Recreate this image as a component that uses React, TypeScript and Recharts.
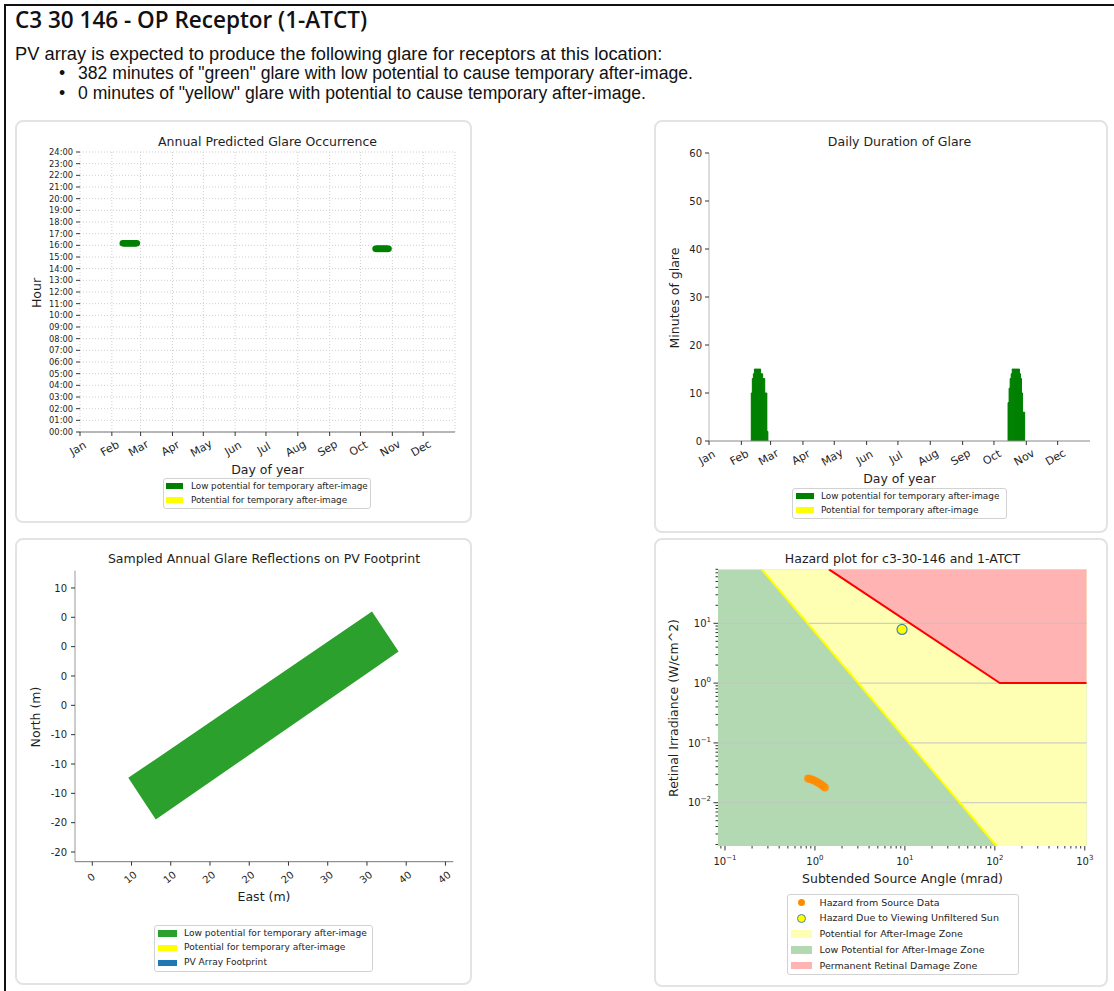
import React from "react";
import {
  BarChart,
  Bar,
  ComposedChart,
  Scatter,
  Area,
  Line,
  XAxis,
  YAxis,
  CartesianGrid,
  ReferenceLine,
} from "recharts";

const FONT = "'DejaVu Sans', Verdana, sans-serif";
const TEXT = "#1e1e1e";

// ---- report header
const reportTitle = "C3 30 146 - OP Receptor (1-ATCT)";
const reportIntro =
  "PV array is expected to produce the following glare for receptors at this location:";
const reportBullets = [
  '382 minutes of "green" glare with low potential to cause temporary after-image.',
  '0 minutes of "yellow" glare with potential to cause temporary after-image.',
];

// ---- shared month axis
const monthLabels = ["Jan", "Feb", "Mar", "Apr", "May", "Jun", "Jul", "Aug", "Sep", "Oct", "Nov", "Dec"];
const monthStartDays = [0, 31, 59, 90, 120, 151, 181, 212, 243, 273, 304, 334];

// ---- annual predicted glare occurrence
const hourTicks = [0, 1, 2, 3, 4, 5, 6, 7, 8, 9, 10, 11, 12, 13, 14, 15, 16, 17, 18, 19, 20, 21, 22, 23, 24];
const hourLabels = [
  "00:00", "01:00", "02:00", "03:00", "04:00", "05:00", "06:00", "07:00", "08:00",
  "09:00", "10:00", "11:00", "12:00", "13:00", "14:00", "15:00", "16:00", "17:00",
  "18:00", "19:00", "20:00", "21:00", "22:00", "23:00", "24:00",
];
const springGlareDays = [42, 43, 44, 45, 46, 47, 48, 49, 50, 51, 52, 53, 54, 55];
const springGlareHours = [16.18, 16.18, 16.18, 16.18, 16.18, 16.18, 16.18, 16.18, 16.18, 16.18, 16.18, 16.18, 16.18, 16.18];
const autumnGlareDays = [288, 289, 290, 291, 292, 293, 294, 295, 296, 297, 298, 299, 300];
const autumnGlareHours = [15.7, 15.7, 15.7, 15.7, 15.7, 15.7, 15.7, 15.7, 15.7, 15.7, 15.7, 15.7, 15.7];

// ---- daily duration of glare
const minuteTicks = [0, 10, 20, 30, 40, 50, 60];
const springDurationDays = [41, 42, 43, 44, 45, 46, 47, 48, 49, 50, 51, 52, 53, 54, 55, 56];
const springDurationMinutes = [10, 13, 14, 15, 15, 15, 15, 15, 15, 14, 14, 13, 13, 10, 10, 2];
const autumnDurationDays = [287, 288, 289, 290, 291, 292, 293, 294, 295, 296, 297, 298, 299, 300, 301, 302];
const autumnDurationMinutes = [8, 11, 13, 14, 15, 15, 15, 15, 15, 15, 15, 14, 13, 10, 6, 6];

// ---- PV footprint (corners)
const footprintEast = [4.59, 8.09, 35.64, 39.03];
const footprintSouthEdge = [-22.36, -29.46, -3.97, -0.83];
const footprintNorthEdge = [-22.36, -19.17, 5.97, -0.83];
const eastTicks = [0, 5, 10, 15, 20, 25, 30, 35, 40, 45];
const eastLabels = ["0", "10", "10", "20", "20", "20", "30", "30", "40", "40"];
const northTicks = [10, 5, 0, -5, -10, -15, -20, -25, -30, -35];
const northLabels = ["10", "0", "0", "0", "0", "-10", "-10", "-10", "-20", "-20"];

// ---- hazard plot
const hazardXDomain = [0.0836, 1050];
const hazardYDomain = [0.00189, 80];
const hazardXMajor = [0.1, 1, 10, 100, 1000];
const hazardXExp = ["\u22121", "0", "1", "2", "3"];
const hazardXMinor = [0.09, 0.2, 0.3, 0.4, 0.5, 0.6, 0.7, 0.8, 0.9, 2, 3, 4, 5, 6, 7, 8, 9, 20, 30, 40, 50, 60, 70, 80, 90, 200, 300, 400, 500, 600, 700, 800, 900];
const hazardYMajor = [0.01, 0.1, 1, 10];
const hazardYExp = ["\u22122", "\u22121", "0", "1"];
const hazardYMinor = [0.002, 0.003, 0.004, 0.005, 0.006, 0.007, 0.008, 0.009, 0.02, 0.03, 0.04, 0.05, 0.06, 0.07, 0.08, 0.09, 0.2, 0.3, 0.4, 0.5, 0.6, 0.7, 0.8, 0.9, 2, 3, 4, 5, 6, 7, 8, 9, 20, 30, 40, 50, 60, 70, 80];
const afterImageAngle = [0.256, 104.5];
const afterImageIrradiance = [80, 0.00189];
const damageAngle = [1.43, 113.6, 1050];
const damageIrradiance = [80, 1.0, 1.0];
const sourceAngle = [0.84, 0.88, 0.93, 0.98, 1.04, 1.1, 1.17, 1.23, 1.29];
const sourceIrradiance = [0.0255, 0.025, 0.0243, 0.0235, 0.0225, 0.0214, 0.0202, 0.019, 0.0179];
const sunAngle = [9.3];
const sunIrradiance = [7.9];

// ---- legends
type LegendEntry = { label: string; color: string; kind?: "rect" | "dot" | "ring" };
const glareLegend: LegendEntry[] = [
  { label: "Low potential for temporary after-image", color: "#008000" },
  { label: "Potential for temporary after-image", color: "#ffff00" },
];
const footprintLegend: LegendEntry[] = [
  { label: "Low potential for temporary after-image", color: "#2ca02c" },
  { label: "Potential for temporary after-image", color: "#ffff00" },
  { label: "PV Array Footprint", color: "#1f77b4" },
];
const hazardLegend: LegendEntry[] = [
  { label: "Hazard from Source Data", color: "#ff8c00", kind: "dot" },
  { label: "Hazard Due to Viewing Unfiltered Sun", color: "#ffff00", kind: "ring" },
  { label: "Potential for After-Image Zone", color: "#ffffb3" },
  { label: "Low Potential for After-Image Zone", color: "#b3d9b3" },
  { label: "Permanent Retinal Damage Zone", color: "#ffb3b3" },
];

// derived tables
const occurrenceSpring = springGlareDays.map((day, i) => ({ day, hour: springGlareHours[i] }));
const occurrenceAutumn = autumnGlareDays.map((day, i) => ({ day, hour: autumnGlareHours[i] }));
const durationData = [
  ...springDurationDays.map((day, i) => ({ day, minutes: springDurationMinutes[i] })),
  ...autumnDurationDays.map((day, i) => ({ day, minutes: autumnDurationMinutes[i] })),
];
const footprintData = footprintEast.map((x, i) => ({ x, band: [footprintSouthEdge[i], footprintNorthEdge[i]] }));

const [xLo, xHi] = hazardXDomain;
const [yLo, yHi] = hazardYDomain;
const greenZone = [
  { x: xLo, band: [yLo, yHi] },
  { x: xHi, band: [yLo, yHi] },
];
const yellowZone = [
  { x: afterImageAngle[0], band: [afterImageIrradiance[0], yHi] },
  { x: afterImageAngle[1], band: [afterImageIrradiance[1], yHi] },
  { x: xHi, band: [yLo, yHi] },
];
const redZone = damageAngle.map((x, i) => ({ x, band: [damageIrradiance[i], yHi] }));
const afterImageLine = afterImageAngle.map((x, i) => ({ x, y: afterImageIrradiance[i] }));
const damageLine = damageAngle.map((x, i) => ({ x, y: damageIrradiance[i] }));
const sourcePoints = sourceAngle.map((x, i) => ({ x, y: sourceIrradiance[i] }));
const sunPoints = sunAngle.map((x, i) => ({ x, y: sunIrradiance[i] }));

// ---- small helpers
function Txt({
  x, y, size, children, rotate = 0, anchor = "middle", family = FONT, color = TEXT, weight = 400,
}: any) {
  const tx = anchor === "middle" ? "-50%" : anchor === "end" ? "-100%" : "0";
  return (
    <div
      style={{
        position: "absolute",
        left: x,
        top: y,
        transform: `translate(${tx}, -50%) rotate(${rotate}deg)`,
        fontFamily: family,
        fontSize: size,
        fontWeight: weight,
        color,
        lineHeight: 1,
        whiteSpace: "nowrap",
      }}
    >
      {children}
    </div>
  );
}

function Panel({ left, top, width, height }: any) {
  return (
    <div
      style={{
        position: "absolute",
        left,
        top,
        width,
        height,
        boxSizing: "border-box",
        border: "2px solid #e3e3e3",
        borderRadius: 8,
      }}
    />
  );
}

function LegendBox({ left, top, width, height, entries, fontSize, firstRow, rowGap, swatchX, swatchW, swatchH, textX }: any) {
  return (
    <div
      style={{
        position: "absolute",
        left,
        top,
        width,
        height,
        boxSizing: "border-box",
        border: "1px solid #d2d2d2",
        borderRadius: 3,
        background: "#fff",
      }}
    >
      {entries.map((e: LegendEntry, i: number) => {
        const cy = firstRow + i * rowGap - 1;
        const cx = swatchX + swatchW / 2 - 1;
        return (
          <React.Fragment key={e.label}>
            {(!e.kind || e.kind === "rect") && (
              <div style={{ position: "absolute", left: swatchX - 1, top: cy - swatchH / 2, width: swatchW, height: swatchH, background: e.color }} />
            )}
            {e.kind === "dot" && (
              <div style={{ position: "absolute", left: cx - 3.5, top: cy - 3.5, width: 7, height: 7, borderRadius: "50%", background: e.color }} />
            )}
            {e.kind === "ring" && (
              <div style={{ position: "absolute", left: cx - 4.5, top: cy - 4.5, width: 9, height: 9, boxSizing: "border-box", borderRadius: "50%", background: e.color, border: "1px solid #4a86a8" }} />
            )}
            <div
              style={{
                position: "absolute",
                left: textX - 1,
                top: cy,
                transform: "translateY(-50%)",
                fontFamily: FONT,
                fontSize,
                color: TEXT,
                lineHeight: 1,
                whiteSpace: "nowrap",
              }}
            >
              {e.label}
            </div>
          </React.Fragment>
        );
      })}
    </div>
  );
}

const makeRotTick = (labels: string[], ticks: number[], angle: number, dx: number, dy: number, size: number) =>
  (props: any) => {
    const { x, y, payload } = props;
    const i = ticks.indexOf(payload.value);
    const cx = x + dx;
    const cy = y + dy;
    return (
      <text
        x={cx}
        y={cy}
        transform={`rotate(${angle} ${cx} ${cy})`}
        textAnchor="middle"
        dominantBaseline="central"
        style={{ fontSize: size, fontFamily: FONT }}
        fill={TEXT}
      >
        {labels[i]}
      </text>
    );
  };

const monthTick = makeRotTick(monthLabels, monthStartDays, -30, -2, 12.5, 11);
const eastTick = makeRotTick(eastLabels, eastTicks, -40, -1, 11.5, 10);

const LogXTick = (props: any) => {
  const { x, y, payload } = props;
  const mi = hazardXMajor.indexOf(payload.value);
  const major = mi >= 0;
  return (
    <g>
      <line x1={x} x2={x} y1={y} y2={y + (major ? 4.5 : 2.5)} stroke="#333" />
      {major && (
        <text x={x} y={y + 18.5} textAnchor="middle" fontSize={10} fill={TEXT} fontFamily={FONT}>
          10
          <tspan dy={-5} fontSize={7}>
            {hazardXExp[mi]}
          </tspan>
        </text>
      )}
    </g>
  );
};

const LogYTick = (props: any) => {
  const { x, y, payload } = props;
  const mi = hazardYMajor.indexOf(payload.value);
  const major = mi >= 0;
  return (
    <g>
      <line x1={x - (major ? 4.5 : 2.5)} x2={x} y1={y} y2={y} stroke="#333" />
      {major && (
        <text x={x - 7} y={y + 3.6} textAnchor="end" fontSize={10} fill={TEXT} fontFamily={FONT}>
          10
          <tspan dy={-5} fontSize={7}>
            {hazardYExp[mi]}
          </tspan>
        </text>
      )}
    </g>
  );
};

const GlareDot = (p: any) => <ellipse cx={p.cx} cy={p.cy} rx={3.6} ry={3.3} fill="#008000" />;
const SourceDot = (p: any) => <circle cx={p.cx} cy={p.cy} r={4} fill="#ff8c00" fillOpacity={0.85} />;
const SunDot = (p: any) => <circle cx={p.cx} cy={p.cy} r={5} fill="#ffff00" stroke="#4a86a8" strokeWidth={1.2} />;

const tickStyle = (size: number) => ({ fontSize: size, fill: TEXT, fontFamily: FONT });
const BODY_FONT = "'Liberation Sans', Arial, sans-serif";

export default function App() {
  return (
    <div style={{ position: "absolute", left: 0, top: 0, width: 1114, height: 991, overflow: "hidden", background: "#fff" }}>
      <div style={{ position: "absolute", left: 4, top: 4, width: 1200, height: 1100, boxSizing: "border-box", border: "2px solid #111" }} />

      {/* header */}
      <Txt x={15} y={20} size={22.5} anchor="start" family="'Open Sans', sans-serif" color="#111" weight={600}>
        {reportTitle}
      </Txt>
      <Txt x={15} y={54} size={18.3} anchor="start" family={BODY_FONT} color="#111">
        {reportIntro}
      </Txt>
      {reportBullets.map((b, i) => (
        <React.Fragment key={b}>
          <Txt x={59} y={74 + i * 20} size={17.6} anchor="start" family={BODY_FONT} color="#111">
            {"\u2022"}
          </Txt>
          <Txt x={78} y={74 + i * 20} size={17.6} anchor="start" family={BODY_FONT} color="#111">
            {b}
          </Txt>
        </React.Fragment>
      ))}

      <Panel left={15} top={120} width={457} height={403} />
      <Panel left={654} top={120} width={454} height={413} />
      <Panel left={15} top={538} width={457} height={447} />
      <Panel left={654} top={538} width={454} height={449} />

      {/* 1. Annual Predicted Glare Occurrence */}
      <div style={{ position: "absolute", left: 15, top: 120 }}>
        <ComposedChart width={457} height={403} margin={{ top: 32, right: 17, bottom: 0, left: 0 }}>
          <CartesianGrid stroke="#cfcfcf" strokeDasharray="1 2" />
          <XAxis
            type="number"
            dataKey="day"
            domain={[0, 365]}
            ticks={monthStartDays}
            interval={0}
            allowDataOverflow
            height={91}
            tickSize={4}
            tickMargin={0}
            axisLine={{ stroke: "#777" }}
            tickLine={{ stroke: "#333" }}
            tick={monthTick}
          />
          <YAxis
            type="number"
            domain={[0, 24]}
            ticks={hourTicks}
            interval={0}
            allowDataOverflow
            width={65}
            axisLine={false}
            tickSize={4}
            tickMargin={3}
            tickLine={{ stroke: "#333" }}
            tick={tickStyle(8.3)}
            tickFormatter={(v: number) => hourLabels[hourTicks.indexOf(v)]}
          />
          <Scatter data={occurrenceSpring} dataKey="hour" shape={GlareDot} isAnimationActive={false} />
          <Scatter data={occurrenceAutumn} dataKey="hour" shape={GlareDot} isAnimationActive={false} />
        </ComposedChart>
      </div>
      <Txt x={267.5} y={141.5} size={12.5}>Annual Predicted Glare Occurrence</Txt>
      <Txt x={37} y={293} size={12.5} rotate={-90}>Hour</Txt>
      <Txt x={267.5} y={470} size={12.5}>Day of year</Txt>
      <LegendBox
        left={163}
        top={478}
        width={208}
        height={31}
        entries={glareLegend}
        fontSize={8.8}
        firstRow={8.3}
        rowGap={14}
        swatchX={2.5}
        swatchW={17.5}
        swatchH={6}
        textX={28}
      />

      {/* 2. Daily Duration of Glare */}
      <div style={{ position: "absolute", left: 654, top: 120 }}>
        <BarChart width={454} height={413} data={durationData} margin={{ top: 33, right: 18, bottom: 0, left: 0 }} barCategoryGap={0}>
          <XAxis
            type="number"
            dataKey="day"
            domain={[0, 365]}
            ticks={monthStartDays}
            interval={0}
            allowDataOverflow
            height={92}
            tickSize={4}
            tickMargin={0}
            axisLine={{ stroke: "#888" }}
            tickLine={{ stroke: "#333" }}
            tick={monthTick}
          />
          <YAxis
            type="number"
            domain={[0, 60]}
            ticks={minuteTicks}
            interval={0}
            allowDataOverflow
            width={55}
            axisLine={{ stroke: "#bbb" }}
            tickSize={4}
            tickMargin={3}
            tickLine={{ stroke: "#333" }}
            tick={tickStyle(10)}
          />
          <Bar dataKey="minutes" fill="#008000" stroke="#008000" strokeWidth={1} barSize={2.6} isAnimationActive={false} />
        </BarChart>
      </div>
      <Txt x={899.5} y={142} size={12.5}>Daily Duration of Glare</Txt>
      <Txt x={674.5} y={298} size={12.5} rotate={-90}>Minutes of glare</Txt>
      <Txt x={899.5} y={479} size={12.5}>Day of year</Txt>
      <LegendBox
        left={792}
        top={488}
        width={215}
        height={31}
        entries={glareLegend}
        fontSize={8.9}
        firstRow={8.3}
        rowGap={14}
        swatchX={4}
        swatchW={17.7}
        swatchH={6}
        textX={29}
      />

      {/* 3. Sampled Annual Glare Reflections on PV Footprint */}
      <div style={{ position: "absolute", left: 15, top: 538 }}>
        <ComposedChart width={457} height={447} margin={{ top: 32.7, right: 18.7, bottom: 0, left: 0 }}>
          <XAxis
            type="number"
            dataKey="x"
            domain={[-2.2, 46]}
            ticks={eastTicks}
            interval={0}
            allowDataOverflow
            height={123.3}
            tickSize={4}
            tickMargin={0}
            axisLine={{ stroke: "#777" }}
            tickLine={{ stroke: "#333" }}
            tick={eastTick}
          />
          <YAxis
            type="number"
            domain={[-36.65, 12.94]}
            ticks={northTicks}
            interval={0}
            allowDataOverflow
            width={60}
            axisLine={{ stroke: "#999" }}
            tickSize={4}
            tickMargin={4}
            tickLine={{ stroke: "#333" }}
            tick={tickStyle(10)}
            tickFormatter={(v: number) => northLabels[northTicks.indexOf(v)]}
          />
          <Area
            data={footprintData}
            dataKey="band"
            type="linear"
            fill="#2ca02c"
            fillOpacity={1}
            stroke="none"
            isAnimationActive={false}
          />
        </ComposedChart>
      </div>
      <Txt x={264} y={559} size={12.5}>Sampled Annual Glare Reflections on PV Footprint</Txt>
      <Txt x={36} y={717} size={12.5} rotate={-90}>North (m)</Txt>
      <Txt x={264} y={897} size={12.5}>East (m)</Txt>
      <LegendBox
        left={154}
        top={925}
        width={219}
        height={47}
        entries={footprintLegend}
        fontSize={9.1}
        firstRow={8.5}
        rowGap={14.7}
        swatchX={4}
        swatchW={18.5}
        swatchH={6.5}
        textX={30}
      />

      {/* 4. Hazard plot */}
      <div style={{ position: "absolute", left: 654, top: 538 }}>
        <ComposedChart width={454} height={449} margin={{ top: 31.3, right: 21.3, bottom: 0, left: 0 }}>
          <XAxis
            type="number"
            dataKey="x"
            scale="log"
            domain={hazardXDomain}
            ticks={[...hazardXMajor, ...hazardXMinor]}
            interval={0}
            allowDataOverflow
            height={141}
            tickSize={0}
            tickMargin={0}
            axisLine={false}
            tickLine={false}
            tick={LogXTick}
          />
          <YAxis
            type="number"
            scale="log"
            domain={hazardYDomain}
            ticks={[...hazardYMajor, ...hazardYMinor]}
            interval={0}
            allowDataOverflow
            width={64}
            tickSize={0}
            tickMargin={0}
            axisLine={false}
            tickLine={false}
            tick={LogYTick}
          />
          <Area data={greenZone} dataKey="band" type="linear" fill="#b3d9b3" fillOpacity={1} stroke="none" isAnimationActive={false} />
          <Area data={yellowZone} dataKey="band" type="linear" fill="#ffffb3" fillOpacity={1} stroke="none" isAnimationActive={false} />
          <Area data={redZone} dataKey="band" type="linear" fill="#ffb3b3" fillOpacity={1} stroke="none" isAnimationActive={false} />
          {hazardYMajor.map((v) => (
            <ReferenceLine key={v} y={v} stroke="#c4c4c4" strokeWidth={1} />
          ))}
          <Line data={afterImageLine} dataKey="y" type="linear" stroke="#ffff00" strokeWidth={2} dot={false} isAnimationActive={false} />
          <Line data={damageLine} dataKey="y" type="linear" stroke="#ff0000" strokeWidth={2} dot={false} isAnimationActive={false} />
          <Scatter data={sourcePoints} dataKey="y" shape={SourceDot} isAnimationActive={false} />
          <Scatter data={sunPoints} dataKey="y" shape={SunDot} isAnimationActive={false} />
        </ComposedChart>
      </div>
      <Txt x={902.5} y={558.5} size={12.5}>Hazard plot for c3-30-146 and 1-ATCT</Txt>
      <Txt x={674} y={708} size={12.5} rotate={-90}>Retinal Irradiance (W/cm^2)</Txt>
      <Txt x={902.5} y={878.5} size={12.5}>Subtended Source Angle (mrad)</Txt>
      <LegendBox
        left={787}
        top={894}
        width={232}
        height={81}
        entries={hazardLegend}
        fontSize={9.5}
        firstRow={8.5}
        rowGap={15.8}
        swatchX={3.5}
        swatchW={21.5}
        swatchH={7.5}
        textX={32.5}
      />
    </div>
  );
}
